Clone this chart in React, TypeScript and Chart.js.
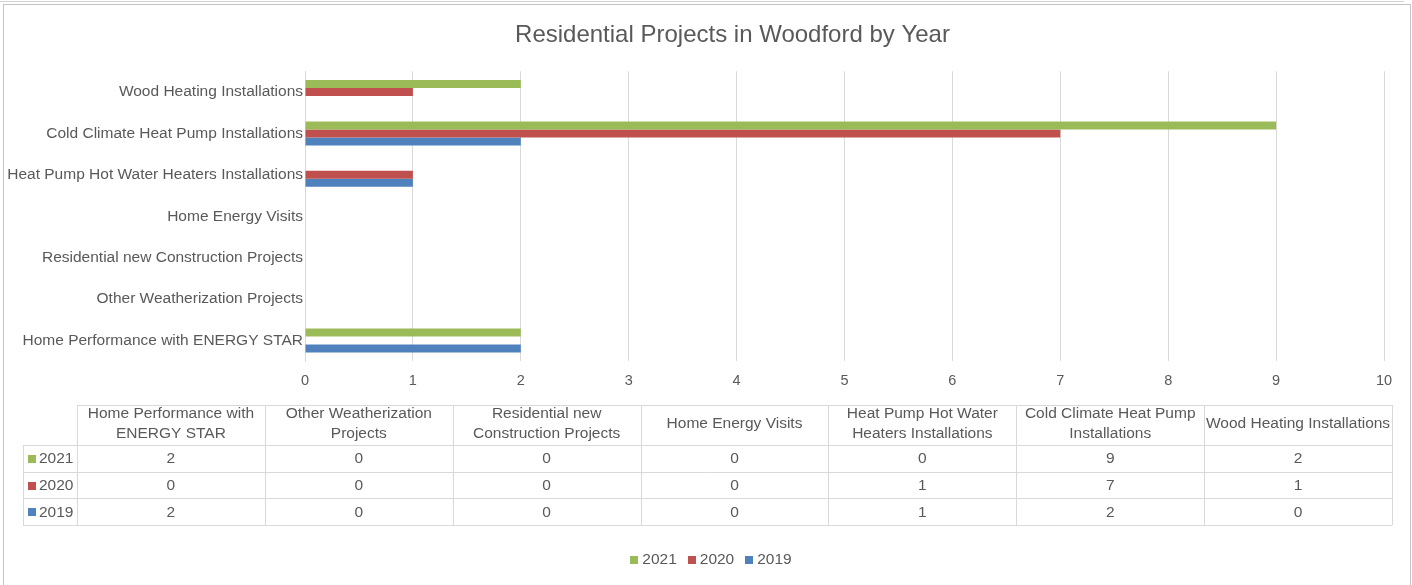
import React, { useEffect, useRef } from "react";
import { Chart, registerables } from "chart.js";

Chart.register(...registerables);

// ---- data ----
const chartTitle = "Residential Projects in Woodford by Year";
const categories = [
  "Home Performance with ENERGY STAR",
  "Other Weatherization Projects",
  "Residential new Construction Projects",
  "Home Energy Visits",
  "Heat Pump Hot Water Heaters Installations",
  "Cold Climate Heat Pump Installations",
  "Wood Heating Installations",
];
const seriesNames = ["2021", "2020", "2019"];
const values2021 = [2, 0, 0, 0, 0, 9, 2];
const values2020 = [0, 0, 0, 0, 1, 7, 1];
const values2019 = [2, 0, 0, 0, 1, 2, 0];
const seriesColors = ["#9BBB59", "#C0504D", "#4F81BD"];
const xMin = 0;
const xMax = 10;
const xStep = 1;

const seriesValues = [values2021, values2020, values2019];

const FONT = "'Liberation Sans', Arial, Helvetica, sans-serif";
const TEXT = "#595959";
const GRID = "#d9d9d9";
const LABEL_SIZE = 15.5;

function wrapText(ctx: CanvasRenderingContext2D, text: string, maxW: number): string[] {
  const words = text.split(" ");
  const lines: string[] = [];
  let cur = "";
  for (const w of words) {
    const test = cur ? cur + " " + w : w;
    if (ctx.measureText(test).width > maxW && cur) {
      lines.push(cur);
      cur = w;
    } else {
      cur = test;
    }
  }
  if (cur) lines.push(cur);
  return lines;
}

const tablePlugin = {
  id: "dataTableAndFrame",
  beforeDraw(chart: any) {
    const ctx: CanvasRenderingContext2D = chart.ctx;
    ctx.save();
    ctx.fillStyle = "#ffffff";
    ctx.fillRect(0, 0, chart.width, chart.height);
    // outer frame
    ctx.strokeStyle = "#d4d4d4";
    ctx.lineWidth = 1;
    ctx.beginPath();
    ctx.moveTo(0, 1.5);
    ctx.lineTo(1404, 1.5);
    ctx.stroke();
    ctx.strokeStyle = "#c4c4c4";
    ctx.strokeRect(3.5, 4.5, 1407, chart.height + 10);
    // title
    ctx.fillStyle = TEXT;
    ctx.font = `24px ${FONT}`;
    ctx.textAlign = "center";
    ctx.textBaseline = "middle";
    ctx.fillText(chartTitle, 732.5, 35);
    ctx.restore();
  },
  afterDraw(chart: any) {
    const ctx: CanvasRenderingContext2D = chart.ctx;
    const n = categories.length;
    const tableLeft = 77;
    const tableRight = 1392;
    const rowHeadLeft = 23;
    const headTop = 405;
    const headBottom = 445;
    const rowH = 26.7;
    const colW = (tableRight - tableLeft) / n;
    const rows = seriesNames.length;
    const tableBottom = headBottom + rowH * rows;
    const px = (v: number) => Math.round(v) + 0.5;

    ctx.save();
    ctx.strokeStyle = GRID;
    ctx.lineWidth = 1;
    ctx.beginPath();
    ctx.moveTo(tableLeft, px(headTop));
    ctx.lineTo(tableRight, px(headTop));
    for (let r = 0; r <= rows; r++) {
      const y = px(headBottom + r * rowH);
      ctx.moveTo(rowHeadLeft, y);
      ctx.lineTo(tableRight, y);
    }
    ctx.moveTo(px(rowHeadLeft), headBottom);
    ctx.lineTo(px(rowHeadLeft), tableBottom);
    for (let c = 0; c <= n; c++) {
      const x = px(tableLeft + c * colW);
      ctx.moveTo(x, headTop);
      ctx.lineTo(x, tableBottom);
    }
    ctx.stroke();

    ctx.fillStyle = TEXT;
    ctx.font = `${LABEL_SIZE}px ${FONT}`;
    ctx.textAlign = "center";
    ctx.textBaseline = "middle";
    const headCenter = 424;
    const lineGap = 20;
    categories.forEach((cat, c) => {
      const cx = tableLeft + c * colW + colW / 2;
      const lines = wrapText(ctx, cat, colW - 2);
      const startY = headCenter - ((lines.length - 1) * lineGap) / 2;
      lines.forEach((ln, i) => ctx.fillText(ln, cx, startY + i * lineGap));
    });
    seriesNames.forEach((name, r) => {
      const cy = headBottom + r * rowH + rowH / 2 + 0.5;
      seriesValues[r].forEach((v, c) => {
        const cx = tableLeft + c * colW + colW / 2;
        ctx.fillText(String(v), cx, cy);
      });
      ctx.fillStyle = seriesColors[r];
      ctx.fillRect(28, Math.round(cy - 4), 8, 8);
      ctx.fillStyle = TEXT;
      ctx.textAlign = "left";
      ctx.fillText(name, 39, cy);
      ctx.textAlign = "center";
    });

    // legend
    ctx.textAlign = "left";
    const box = 8;
    const gapBoxText = 4;
    const gapItems = 11;
    const widths = seriesNames.map((s) => ctx.measureText(s).width);
    const total =
      widths.reduce((a, w) => a + box + gapBoxText + w, 0) + gapItems * (seriesNames.length - 1);
    let lx = 711 - total / 2;
    const ly = 559;
    seriesNames.forEach((s, i) => {
      ctx.fillStyle = seriesColors[i];
      ctx.fillRect(Math.round(lx), ly - 3, box, box);
      ctx.fillStyle = TEXT;
      ctx.fillText(s, lx + box + gapBoxText, ly + 1);
      lx += box + gapBoxText + widths[i] + gapItems;
    });
    ctx.restore();
  },
};

export default function App() {
  const canvasRef = useRef<HTMLCanvasElement>(null);

  useEffect(() => {
    document.body.style.margin = "0";
    const canvas = canvasRef.current;
    if (!canvas) return;
    const chart = new Chart(canvas, {
      type: "bar",
      data: {
        labels: categories,
        datasets: seriesNames.map((name, i) => ({
          label: name,
          data: seriesValues[i],
          backgroundColor: seriesColors[i],
          borderWidth: 0,
          categoryPercentage: 0.58,
          barPercentage: 1.0,
        })),
      },
      options: {
        indexAxis: "y",
        responsive: false,
        animation: false,
        layout: { padding: { left: 0, right: 28, top: 71.3, bottom: 193.8 } },
        scales: {
          x: {
            min: xMin,
            max: xMax,
            ticks: {
              stepSize: xStep,
              color: TEXT,
              font: { family: FONT, size: 14.5 },
              padding: 11,
            },
            grid: { color: GRID, drawTicks: false, lineWidth: 1 },
            border: { display: false },
            afterFit: (scale: any) => {
              scale.height = 30;
            },
          },
          y: {
            reverse: true,
            ticks: {
              color: TEXT,
              font: { family: FONT, size: LABEL_SIZE },
              padding: 2,
              autoSkip: false,
            },
            grid: { display: false, drawTicks: false },
            border: { display: true, color: GRID },
            afterFit: (scale: any) => {
              scale.width = 305;
            },
          },
        },
        plugins: {
          legend: { display: false },
          tooltip: { enabled: false },
          title: { display: false },
        },
      },
      plugins: [tablePlugin],
    });
    return () => chart.destroy();
  }, []);

  return (
    <div style={{ width: 1412, height: 585 }}>
      <canvas ref={canvasRef} width={1412} height={585} style={{ display: "block" }} />
    </div>
  );
}
